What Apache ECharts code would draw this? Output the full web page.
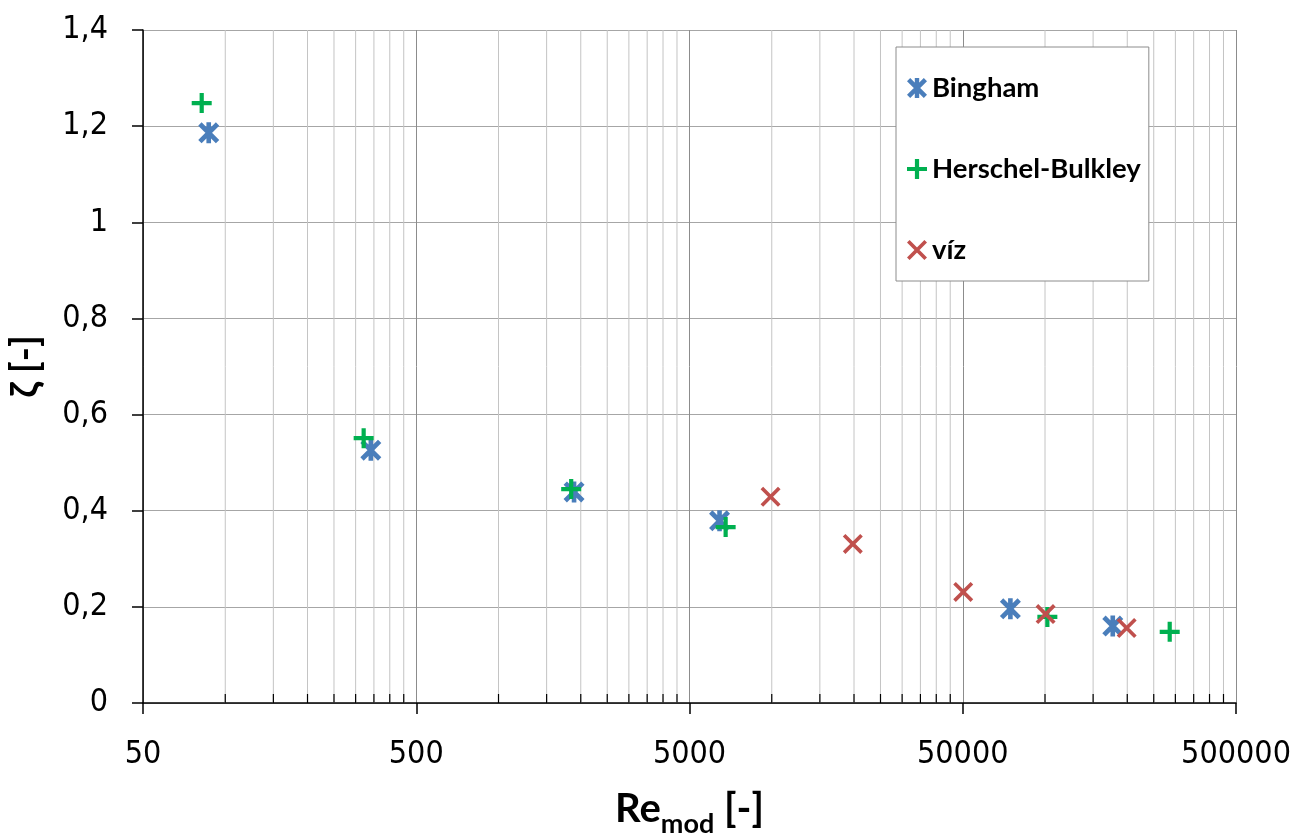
<!DOCTYPE html>
<html>
<head>
<meta charset="utf-8">
<style>
  html, body { margin: 0; padding: 0; background: #fff; }
  #main { width: 1298px; height: 834px; }
</style>
<script src="https://cdn.jsdelivr.net/npm/echarts@6/dist/echarts.min.js"></script>
</head>
<body>
<div id="main"></div>
<script>
// Re_mod vs ζ, x osa logaritmická (50 .. 500000)
var reBingham = [87, 341, 1890, 6440, 74700, 177000];
var zetaBingham = [1.186, 0.526, 0.439, 0.379, 0.196, 0.160];

var reHB = [82, 321, 1845, 6780, 102000, 286000];
var zetaHB = [1.248, 0.551, 0.445, 0.366, 0.179, 0.148];

var reViz = [9900, 19800, 50200, 100500, 199000];
var zetaViz = [0.429, 0.331, 0.231, 0.185, 0.156];

var xTickLabels = ['50', '500', '5000', '50000', '500000'];
var yTickLabels = ['0', '0,2', '0,4', '0,6', '0,8', '1', '1,2', '1,4'];
var minorSteps = [2, 3, 4, 5, 6, 7, 8, 9];

var RE_MIN = 50;
function lx(re) {
  return Math.log10(re / RE_MIN);
}
function pairs(xs, ys) {
  return xs.map(function (x, i) {
    return [lx(x), ys[i]];
  });
}

// vedlejší mřížka na log ose
var minorData = [];
for (var d = 0; d < xTickLabels.length - 1; d++) {
  minorSteps.forEach(function (k) {
    minorData.push([d + Math.log10(k), 0]);
  });
}

var symStar = 'path://M3.2,0L20,16.8L16.8,20L0,3.2Z M16.8,0L20,3.2L3.2,20L0,16.8Z M7.8,0L12.2,0L12.2,20L7.8,20Z';
var symPlus = 'path://M7.9,0L12.1,0L12.1,20L7.9,20Z M0,7.9L20,7.9L20,12.1L0,12.1Z';
var symCross = 'path://M2.6,0L20,17.4L17.4,20L0,2.6Z M17.4,0L20,2.6L2.6,20L0,17.4Z';

var labelFont = '"DejaVu Sans Condensed", "Liberation Sans", sans-serif';
var titleFont = 'Lato, "Open Sans", sans-serif';

var mychart = echarts.init(document.getElementById('main'));

var option = {
  animation: false,
  backgroundColor: '#fff',
  grid: {
    left: 143,
    right: 62,
    top: 30,
    bottom: 131,
    containLabel: false,
    outerBoundsMode: 'none',
  },
  legend: {
    orient: 'vertical',
    left: 896,
    top: 47,
    data: ['Bingham', 'Herschel-Bulkley', 'víz'],
    itemWidth: 20,
    itemHeight: 20,
    itemGap: 53,
    padding: [27, 8, 17, 11],
    backgroundColor: '#fff',
    borderColor: '#8c8c8c',
    borderWidth: 1,
    textStyle: {
      fontFamily: titleFont,
      fontWeight: 'bold',
      fontSize: 27.5,
      color: '#000',
    },
  },
  xAxis: {
    type: 'value',
    min: 0,
    max: 4,
    interval: 1,
    name: '{b|Re}{s|mod}{b| [-]}',
    nameLocation: 'middle',
    nameGap: 86,
    nameTextStyle: {
      rich: {
        b: {
          fontFamily: titleFont,
          fontWeight: 'bold',
          fontSize: 40,
          color: '#000',
          verticalAlign: 'bottom',
        },
        s: {
          fontFamily: titleFont,
          fontWeight: 'bold',
          fontSize: 27,
          color: '#000',
          verticalAlign: 'bottom',
          padding: [0, 0, -9, 0],
        },
      },
    },
    axisLine: {
      lineStyle: { color: '#000', width: 1.5 },
    },
    axisTick: {
      length: 11,
      lineStyle: { color: '#000', width: 1.5 },
    },
    axisLabel: {
      margin: 36,
      fontFamily: labelFont,
      fontSize: 32,
      color: '#000',
      formatter: function (v, i) {
        return xTickLabels[i];
      },
    },
    splitLine: {
      show: true,
      lineStyle: { color: '#8c8c8c', width: 1 },
    },
  },
  yAxis: {
    type: 'value',
    min: 0,
    max: 1.4,
    interval: 0.2,
    name: 'ζ [-]',
    nameLocation: 'middle',
    nameGap: 98,
    nameTextStyle: {
      fontFamily: titleFont,
      fontWeight: 'bold',
      fontSize: 38,
      color: '#000',
    },
    axisLine: {
      show: true,
      lineStyle: { color: '#000', width: 1.5 },
    },
    axisTick: {
      show: true,
      length: 11,
      lineStyle: { color: '#000', width: 1.5 },
    },
    axisLabel: {
      margin: 35,
      fontFamily: labelFont,
      fontSize: 32,
      color: '#000',
      formatter: function (v, i) {
        return yTickLabels[i];
      },
    },
    splitLine: {
      show: true,
      lineStyle: { color: '#a6a6a6', width: 1 },
    },
  },
  series: [
    {
      type: 'custom',
      name: 'minor',
      silent: true,
      z: 1,
      data: minorData,
      renderItem: function (params, api) {
        var x = api.value(0);
        var p0 = api.coord([x, 0]);
        var p1 = api.coord([x, 1.4]);
        return {
          type: 'group',
          children: [
            {
              type: 'line',
              shape: { x1: p0[0], y1: p0[1], x2: p1[0], y2: p1[1] },
              style: { stroke: '#c4c4c4', lineWidth: 1 },
            },
            {
              type: 'line',
              shape: { x1: p0[0], y1: p0[1], x2: p0[0], y2: p0[1] - 9 },
              style: { stroke: '#000', lineWidth: 1.2 },
            },
          ],
        };
      },
    },
    {
      type: 'scatter',
      name: 'Bingham',
      z: 3,
      symbol: symStar,
      symbolSize: 21,
      itemStyle: { color: '#4a7ebb', opacity: 1 },
      data: pairs(reBingham, zetaBingham),
    },
    {
      type: 'scatter',
      name: 'Herschel-Bulkley',
      z: 3,
      symbol: symPlus,
      symbolSize: 20,
      itemStyle: { color: '#00b050', opacity: 1 },
      data: pairs(reHB, zetaHB),
    },
    {
      type: 'scatter',
      name: 'víz',
      z: 3,
      symbol: symCross,
      symbolSize: 20,
      itemStyle: { color: '#c0504d', opacity: 1 },
      data: pairs(reViz, zetaViz),
    },
  ],
};

mychart.setOption(option);
</script>
</body>
</html>
